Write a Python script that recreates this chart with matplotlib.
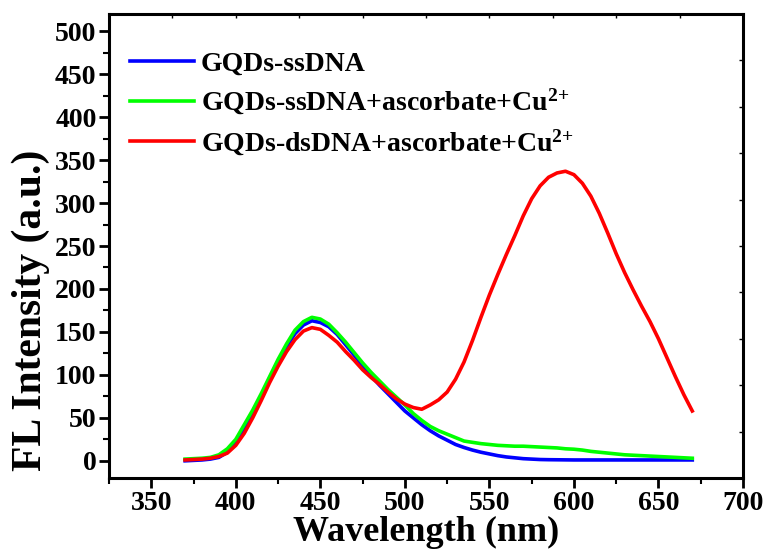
import numpy as np
import matplotlib
matplotlib.use('Agg')
import matplotlib.pyplot as plt
from matplotlib.ticker import MultipleLocator

plt.rcParams['font.family'] = 'Liberation Serif'
plt.rcParams['font.weight'] = 'bold'
plt.rcParams['mathtext.fontset'] = 'custom'
plt.rcParams['mathtext.rm'] = 'Liberation Serif:bold'
plt.rcParams['mathtext.default'] = 'rm'

# wavelength grid (nm)
wavelength = list(range(370, 675, 5))

# GQDs-ssDNA
ss_dna = [0, 0.5, 1, 2, 4, 10, 21, 37, 55, 75,
          96, 115, 133, 148, 158, 163, 161, 156, 147, 135,
          123, 111, 99, 88, 78, 68, 58, 50, 42, 35,
          29, 24, 19, 15.5, 12.5, 10, 8, 6, 4.5, 3.5,
          2.5, 2, 1.5, 1.3, 1.2, 1.1, 1, 1, 1, 1,
          1, 1, 1, 1, 1, 1, 1, 1, 1, 1, 1]

# GQDs-ssDNA+ascorbate+Cu2+
ss_dna_cu = [2, 2.5, 3, 4, 7, 14, 25, 42, 59, 78,
             98, 118, 136, 152, 162, 167, 165, 159, 149, 138,
             126, 114, 103, 93, 83, 74, 65, 55, 47, 40,
             35, 31, 27, 23, 21.5, 20, 19, 18, 17.5, 17,
             17, 16.5, 16, 15.5, 15, 14, 13.5, 12.5, 11, 10,
             9, 8, 7, 6.5, 6, 5.5, 5, 4.5, 4, 3.5, 3]

# GQDs-dsDNA+ascorbate+Cu2+
ds_dna_cu = [1, 1.5, 2, 3, 5, 9, 18, 32, 50, 70,
             91, 110, 127, 141, 151, 155, 153, 146, 138, 127,
             117, 106, 97, 89, 80, 72, 66, 62, 60, 65,
             71, 80, 95, 115, 140, 167, 193, 217, 240, 262,
             285, 305, 320, 330, 335, 337, 333, 323, 308, 288,
             265, 241, 219, 199, 180, 162, 142, 120, 98, 77, 58]

labels = ['GQDs-ssDNA',
          'GQDs-ssDNA+ascorbate+Cu$^{2{+}}$',
          'GQDs-dsDNA+ascorbate+Cu$^{2{+}}$']
colors = ['#0000ff', '#00ff00', '#ff0000']

fig = plt.figure(figsize=(7.69, 5.57), dpi=100)
ax = fig.add_axes([109 / 769, 1 - 478 / 557, 634 / 769, 464 / 557])

for series, label, color in zip([ss_dna, ss_dna_cu, ds_dna_cu], labels, colors):
    ax.plot(wavelength, series, color=color, lw=2.6, label=label)

ax.set_xlim(325, 700)
ax.set_ylim(-20, 520)
ax.xaxis.set_major_locator(MultipleLocator(50))
ax.xaxis.set_minor_locator(MultipleLocator(25))
ax.yaxis.set_major_locator(MultipleLocator(50))
ax.yaxis.set_minor_locator(MultipleLocator(25))
ax.tick_params(which='major', direction='out', length=7, width=2, labelsize=20, pad=2)
ax.tick_params(which='minor', direction='out', length=4, width=1.5)
for spine in ax.spines.values():
    spine.set_linewidth(2.2)

ax.set_xlabel('Wavelength (nm)', fontsize=26, fontweight='bold', labelpad=0)
ax.set_ylabel('FL Intensity (a.u.)', fontsize=30, fontweight='bold')
ax.yaxis.set_label_coords(-0.093, 0.362)

# small inward ticks on the opposite axes
top = ax.twiny()
top.set_xlim(0, 1)
top.set_xticks(np.linspace(0.1, 0.9, 9))
top.tick_params(direction='in', length=3, width=1, labeltop=False)
right = ax.twinx()
right.set_ylim(0, 1)
right.set_yticks(np.linspace(0.1, 0.9, 9))
right.tick_params(direction='in', length=3, width=1, labelright=False)

ax.legend(loc='upper left', bbox_to_anchor=(0.033, 0.92), frameon=False,
          fontsize=20, handlelength=2.3, handletextpad=0.25,
          labelspacing=0.38, borderpad=0, borderaxespad=0)

fig.savefig('out.png', dpi=100)
